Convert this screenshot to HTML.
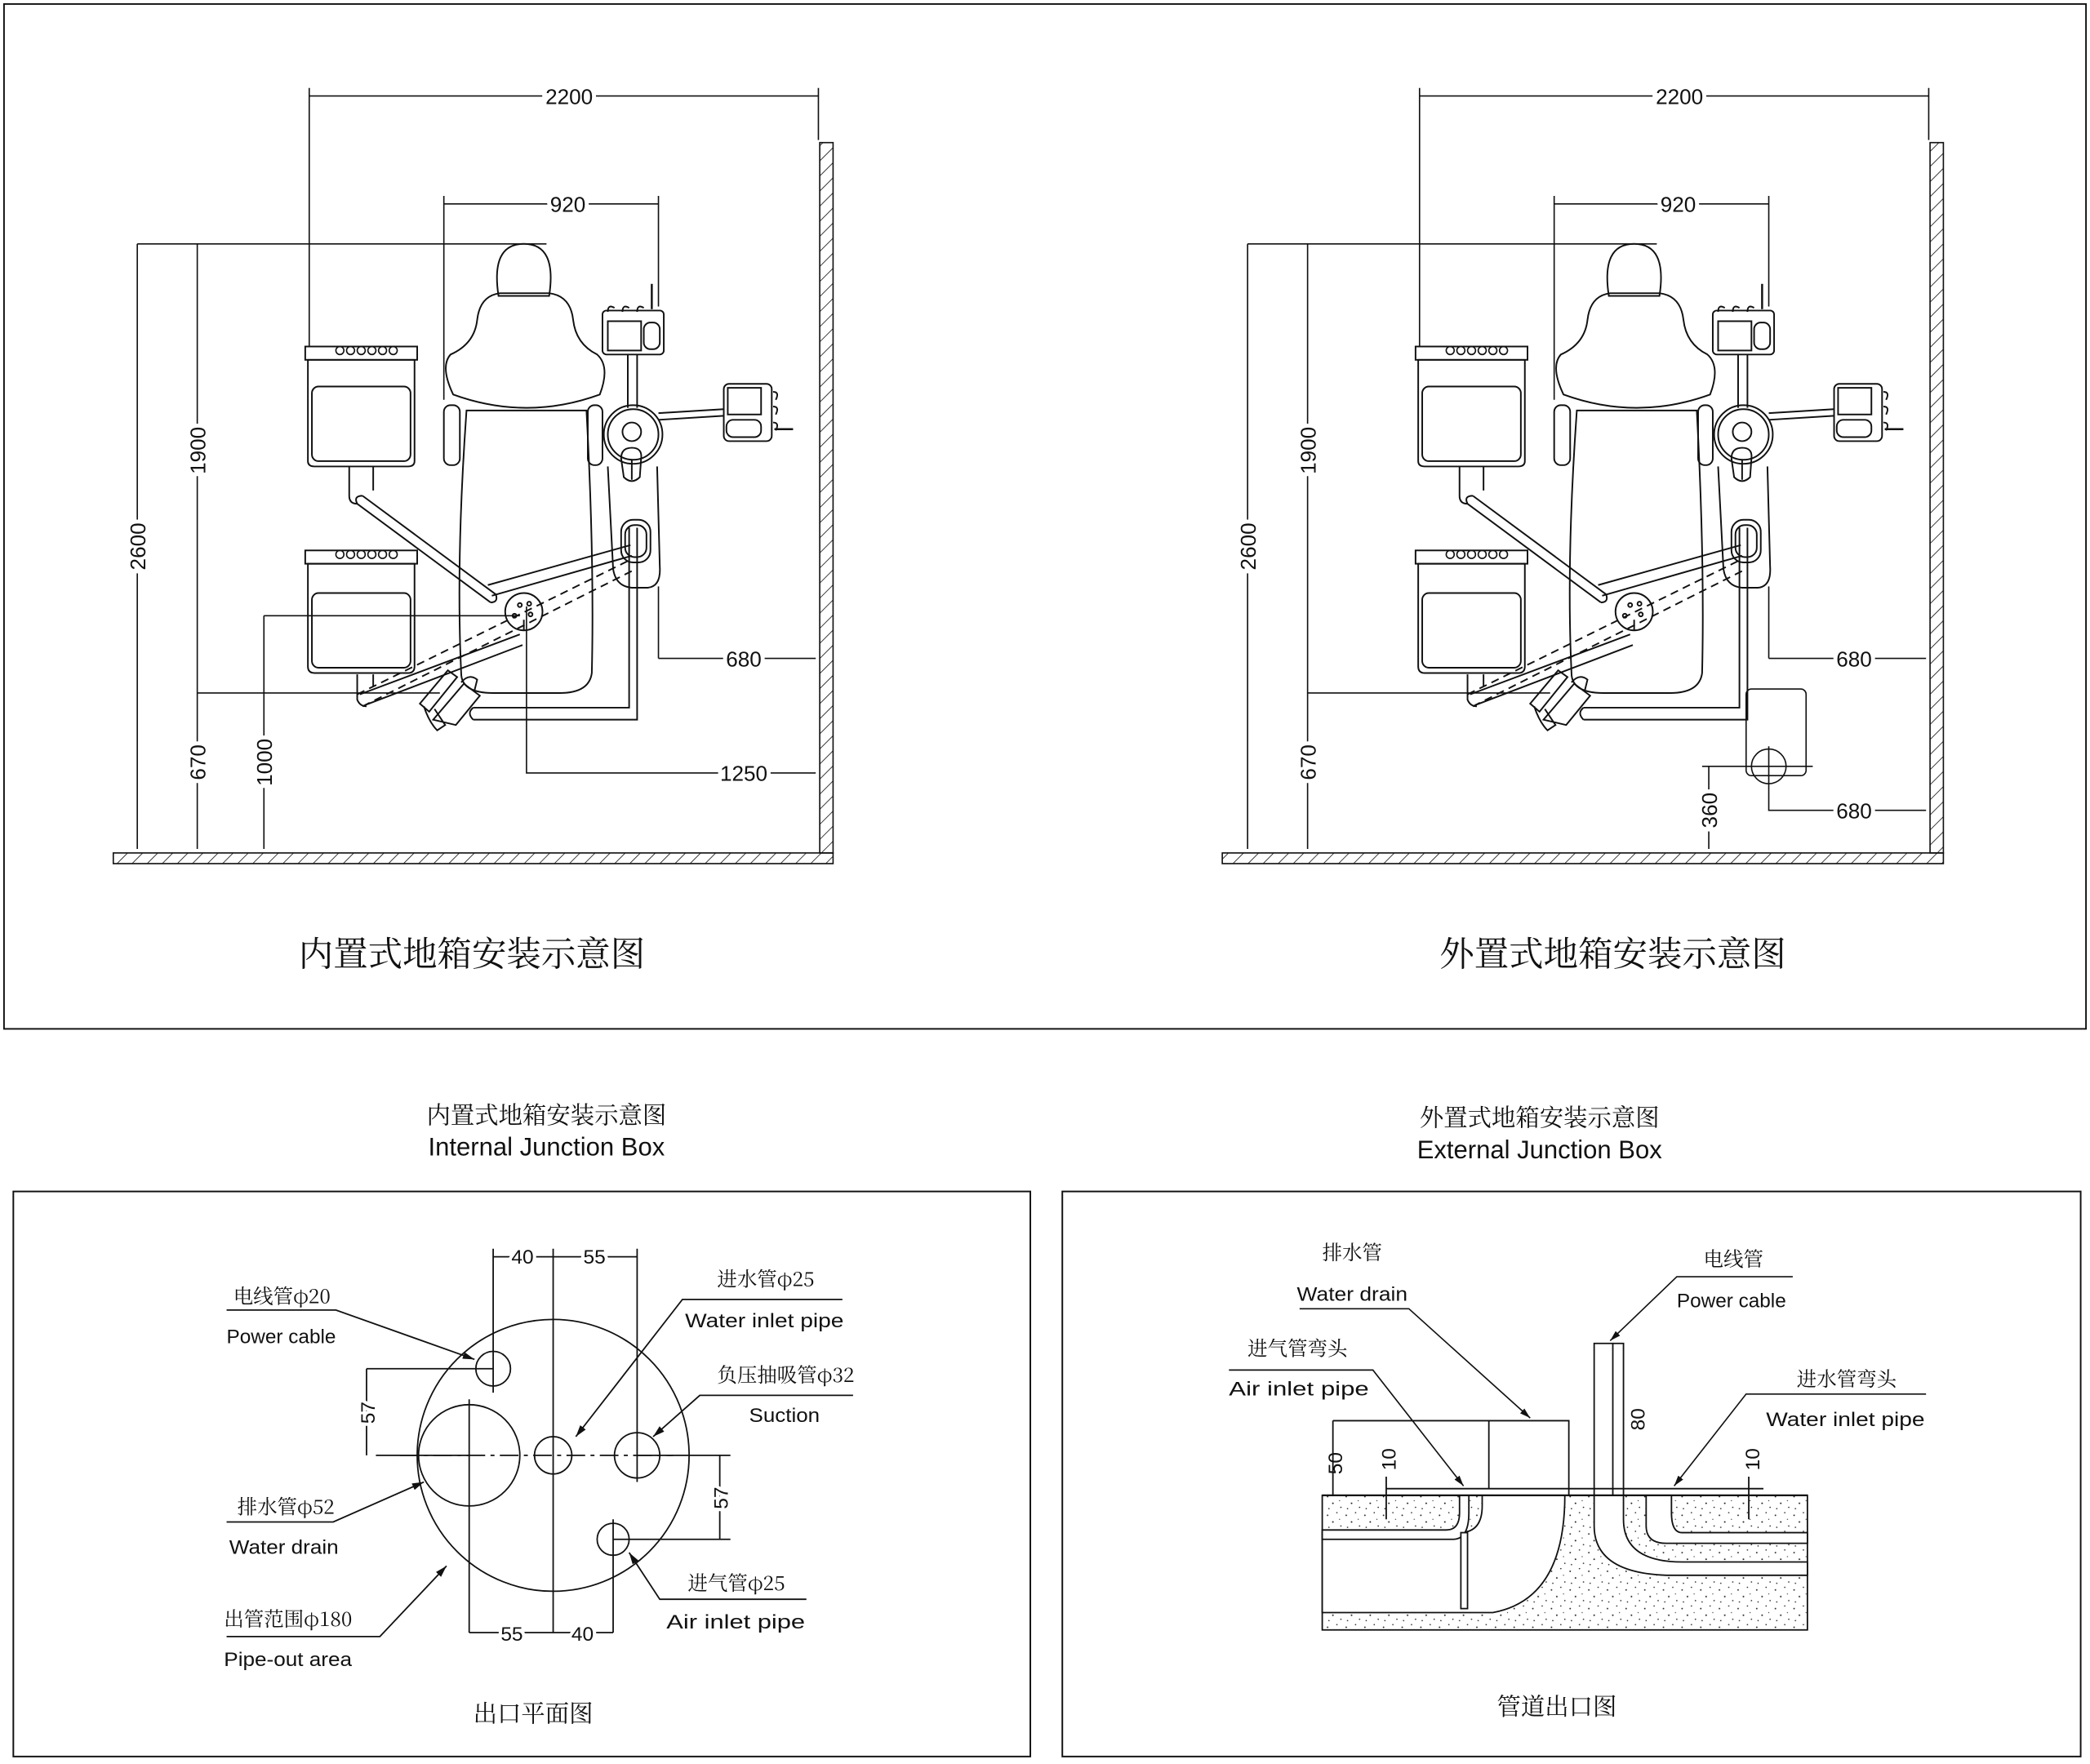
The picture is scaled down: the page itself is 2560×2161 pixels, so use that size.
<!DOCTYPE html>
<html><head><meta charset="utf-8"><style>
html,body{margin:0;padding:0;background:#fff}
svg{display:block}
text{font-family:"Liberation Sans","Noto Sans CJK SC",sans-serif;fill:#111}
.cn{font-family:"Noto Serif CJK SC","Noto Sans CJK SC",serif}
.m{font-family:"Liberation Sans Narrow","Liberation Sans",sans-serif;font-size:15px}
</style></head><body>
<svg width="2560" height="2161" viewBox="0 0 1568 1323.6" xmlns="http://www.w3.org/2000/svg">
<defs>
<pattern id="hatch" width="8" height="8" patternUnits="userSpaceOnUse" patternTransform="rotate(45)">
<line x1="0" y1="0" x2="0" y2="8" stroke="#111" stroke-width="1"/></pattern>
<pattern id="dots" width="14" height="14" patternUnits="userSpaceOnUse">
<circle cx="2" cy="3" r="0.6" fill="#222"/><circle cx="9" cy="1" r="0.5" fill="#222"/><circle cx="6" cy="8" r="0.6" fill="#222"/><circle cx="12" cy="11" r="0.5" fill="#222"/><circle cx="3" cy="12" r="0.5" fill="#222"/><circle cx="11" cy="6" r="0.4" fill="#222"/></pattern>
<marker id="ar" viewBox="0 0 10 10" refX="10" refY="5" markerWidth="8" markerHeight="8" orient="auto-start-reverse"><path d="M0,2 L10,5 L0,8 z" fill="#111"/></marker>
<g id="unit" fill="none" stroke="#111" stroke-width="1.2">
 <path d="M374,222 Q368,183 393,183 Q418,183 412,222 Z"/>
 <path d="M340,296 Q330,275 338,266 Q356,258 358,240 Q360,222 375,220 L412,220 Q428,222 430,240 Q432,258 448,266 Q458,275 450,296 Q395,316 340,296Z"/>
 <path d="M350,308 L440,308 Q446,420 444,505 Q442,520 420,520 L370,520 Q346,520 346,505 Q342,420 350,308Z"/>
 <rect x="333" y="304" width="12" height="45" rx="5"/>
 <rect x="441" y="304" width="11" height="45" rx="5"/>
 <rect x="229" y="260" width="84" height="10"/>
 <path d="M231,270 L311,270 L311,346 Q311,350 306,350 L236,350 Q231,350 231,346Z"/>
 <rect x="234" y="290" width="74" height="56" rx="5"/>
 <g stroke-width="1"><circle cx="255" cy="263" r="3"/><circle cx="263" cy="263" r="3"/><circle cx="271" cy="263" r="3"/><circle cx="279" cy="263" r="3"/><circle cx="287" cy="263" r="3"/><circle cx="295" cy="263" r="3"/></g>
 <rect x="229" y="413" width="84" height="10"/>
 <path d="M231,423 L311,423 L311,500 Q311,505 306,505 L236,505 Q231,505 231,500Z"/>
 <rect x="234" y="445" width="74" height="56" rx="5"/>
 <g stroke-width="1"><circle cx="255" cy="416" r="3"/><circle cx="263" cy="416" r="3"/><circle cx="271" cy="416" r="3"/><circle cx="279" cy="416" r="3"/><circle cx="287" cy="416" r="3"/><circle cx="295" cy="416" r="3"/></g>
 <path d="M262,350 L262,372 Q262,378 268,378 M280,350 L280,368"/>
 <path d="M268,506 L268,525 Q270,530 275,530 M280,506 L280,515"/>
 <path d="M272,372 L372,446 M268,378 L368,452"/>
 <path d="M268,378 Q265,372 272,372 M372,446 Q374,452 368,452"/>
 <path d="M366,439 L473,409 M369,447 L474,417"/>
 <path d="M268,521 L473,420" stroke-dasharray="6,4"/>
 <path d="M272,530 L475,428" stroke-dasharray="6,4"/>
 <path d="M270,521 L390,476 M274,529 L392,484"/>
 <circle cx="393" cy="459" r="14"/>
 <circle cx="390" cy="454" r="1.5"/><circle cx="397" cy="453" r="1.5"/><circle cx="386" cy="462" r="1.5"/><circle cx="398" cy="461" r="1.5"/>
 <line x1="393" y1="465" x2="393" y2="473"/>
 <path d="M315,528 L336,503 L343,508 L322,534 Z"/>
 <path d="M325,540 L348,513 L360,522 L342,544 Z"/>
 <path d="M318,530 Q322,542 328,548 L334,544 L326,532"/>
 <path d="M346,512 Q352,505 358,510 L356,518"/>
 <path d="M355,531 L472,531 L472,396 M355,540 L478,540 L478,396"/>
 <path d="M355,531 Q350,535 355,540"/>
 <path d="M456,350 L460,427 Q462,440 474,441 L486,441 Q496,440 495,425 L493,350"/>
 <rect x="466" y="390" width="22" height="32" rx="9"/>
 <rect x="469" y="394" width="16" height="24" rx="7"/>
 <circle cx="475" cy="326" r="22"/><circle cx="475" cy="326" r="19"/><circle cx="474" cy="324" r="7"/>
 <path d="M466,344 Q466,336 474,336 Q482,336 481,344 L480,358 Q474,364 468,358Z"/>
 <line x1="474" y1="345" x2="474" y2="360"/>
 <rect x="452" y="233" width="46" height="33" rx="3"/>
 <rect x="456" y="241" width="25" height="22"/>
 <rect x="483" y="242" width="12" height="20" rx="5"/>
 <path d="M456,234 Q456,228 461,231 M467,234 Q467,228 472,231 M478,234 Q478,228 483,231"/>
 <line x1="489" y1="213" x2="489" y2="232" stroke-width="1.5"/>
 <path d="M471,266 L471,306 M478,266 L478,306"/>
 <path d="M494,310 L543,307 M494,315 L543,312"/>
 <rect x="543" y="288" width="36" height="43" rx="4"/>
 <rect x="546" y="291" width="25" height="20"/>
 <rect x="545" y="315" width="26" height="13" rx="5"/>
 <path d="M580,294 Q585,294 582,300 M580,305 Q585,305 582,311 M580,317 Q585,317 582,323"/>
 <line x1="581" y1="322" x2="595" y2="322" stroke-width="1.5"/>
</g>
</defs>

<rect x="3" y="3" width="1562" height="769" fill="none" stroke="#111" stroke-width="1.2"/>
<rect x="10" y="894" width="763" height="424" fill="none" stroke="#111" stroke-width="1.2"/>
<rect x="797" y="894" width="764" height="424" fill="none" stroke="#111" stroke-width="1.2"/>

<g stroke="#111" stroke-width="1" fill="none">
 <rect x="85" y="640" width="540" height="8" fill="url(#hatch)"/>
 <rect x="615" y="107" width="10" height="533" fill="url(#hatch)"/>
 <path d="M232,72 L614,72 M232,66 L232,260 M614,66 L614,105"/>
 <path d="M333,153 L494,153 M333,147 L333,300 M494,147 L494,230"/>
 <path d="M103,183 L410,183 M103,183 L103,637 M148,183 L148,520 M148,520 L330,520 M148,520 L148,637"/>
 <path d="M198,462 L390,462 M198,462 L198,637"/>
 <path d="M494,494 L612,494 M494,440 L494,494"/>
 <path d="M395,455 L395,580 L612,580"/>
</g>
<use href="#unit"/>
<g font-size="16">
<text x="427" y="78" text-anchor="middle" style="paint-order:stroke" stroke="#fff" stroke-width="6">2200</text>
<text x="426" y="159" text-anchor="middle" stroke="#fff" stroke-width="6" style="paint-order:stroke">920</text>
<text x="558" y="500" text-anchor="middle" stroke="#fff" stroke-width="6" style="paint-order:stroke">680</text>
<text x="558" y="586" text-anchor="middle" stroke="#fff" stroke-width="6" style="paint-order:stroke">1250</text>
<text transform="translate(109,410) rotate(-90)" text-anchor="middle" stroke="#fff" stroke-width="6" style="paint-order:stroke">2600</text>
<text transform="translate(154,338) rotate(-90)" text-anchor="middle" stroke="#fff" stroke-width="6" style="paint-order:stroke">1900</text>
<text transform="translate(154,572) rotate(-90)" text-anchor="middle" stroke="#fff" stroke-width="6" style="paint-order:stroke">670</text>
<text transform="translate(204,572) rotate(-90)" text-anchor="middle" stroke="#fff" stroke-width="6" style="paint-order:stroke">1000</text>
</g>
<text x="354" y="725" class="cn" font-size="26" text-anchor="middle">内置式地箱安装示意图</text>

<g stroke="#111" stroke-width="1" fill="none">
 <rect x="917" y="640" width="541" height="8" fill="url(#hatch)"/>
 <rect x="1448" y="107" width="10" height="533" fill="url(#hatch)"/>
 <path d="M1065,72 L1447,72 M1065,66 L1065,260 M1447,66 L1447,105"/>
 <path d="M1166,153 L1327,153 M1166,147 L1166,300 M1327,147 L1327,230"/>
 <path d="M936,183 L1243,183 M936,183 L936,637 M981,183 L981,520 M981,520 L1163,520 M981,520 L981,637"/>
 <path d="M1327,494 L1445,494 M1327,440 L1327,494"/>
 <rect x="1310" y="517" width="45" height="65" rx="4"/>
 <circle cx="1327" cy="575" r="13"/>
 <path d="M1277,575 L1360,575 M1327,560 L1327,608 L1445,608 M1282,575 L1282,637"/>
</g>
<use href="#unit" transform="translate(833,0)"/>
<g font-size="16">
<text x="1260" y="78" text-anchor="middle" stroke="#fff" stroke-width="6" style="paint-order:stroke">2200</text>
<text x="1259" y="159" text-anchor="middle" stroke="#fff" stroke-width="6" style="paint-order:stroke">920</text>
<text x="1391" y="500" text-anchor="middle" stroke="#fff" stroke-width="6" style="paint-order:stroke">680</text>
<text x="1391" y="614" text-anchor="middle" stroke="#fff" stroke-width="6" style="paint-order:stroke">680</text>
<text transform="translate(942,410) rotate(-90)" text-anchor="middle" stroke="#fff" stroke-width="6" style="paint-order:stroke">2600</text>
<text transform="translate(987,338) rotate(-90)" text-anchor="middle" stroke="#fff" stroke-width="6" style="paint-order:stroke">1900</text>
<text transform="translate(987,572) rotate(-90)" text-anchor="middle" stroke="#fff" stroke-width="6" style="paint-order:stroke">670</text>
<text transform="translate(1288,608) rotate(-90)" text-anchor="middle" stroke="#fff" stroke-width="6" style="paint-order:stroke">360</text>
</g>
<text x="1210" y="725" class="cn" font-size="26" text-anchor="middle">外置式地箱安装示意图</text>

<text x="410" y="843" class="cn" font-size="18" text-anchor="middle">内置式地箱安装示意图</text>
<text x="410" y="867" font-size="19" text-anchor="middle">Internal Junction Box</text>
<text x="1155" y="845" class="cn" font-size="18" text-anchor="middle">外置式地箱安装示意图</text>
<text x="1155" y="869" font-size="19" text-anchor="middle">External Junction Box</text>

<g stroke="#111" stroke-width="1.1" fill="none">
 <circle cx="415" cy="1092" r="102"/>
 <circle cx="370" cy="1027" r="13"/>
 <circle cx="352" cy="1092" r="38"/>
 <circle cx="415" cy="1092" r="14"/>
 <circle cx="478" cy="1092" r="17"/>
 <circle cx="460" cy="1155" r="12"/>
 <path d="M300,1092 L505,1092" stroke-dasharray="14,4,3,4"/>
 <path d="M370,937 L370,1045 M415,937 L415,1225 M478,937 L478,1112 M352,1050 L352,1225 M460,1140 L460,1225"/>
 <path d="M370,943 L478,943 M352,1225 L460,1225"/>
 <path d="M275,1027 L370,1027 M275,1027 L275,1092 M282,1092 L352,1092"/>
 <path d="M478,1092 L548,1092 M460,1155 L548,1155 M540,1092 L540,1155"/>
 <path d="M170,983 L252,983 L356,1020" marker-end="url(#ar)"/>
 <path d="M170,1142 L250,1142 L318,1112" marker-end="url(#ar)"/>
 <path d="M170,1228 L285,1228 L335,1175" marker-end="url(#ar)"/>
 <path d="M632,975 L512,975 L432,1078" marker-end="url(#ar)"/>
 <path d="M640,1047 L525,1047 L490,1078" marker-end="url(#ar)"/>
 <path d="M605,1200 L495,1200 L472,1165" marker-end="url(#ar)"/>
</g>
<g font-size="15">
<text x="392" y="948" text-anchor="middle" stroke="#fff" stroke-width="5" style="paint-order:stroke">40</text>
<text x="446" y="948" text-anchor="middle" stroke="#fff" stroke-width="5" style="paint-order:stroke">55</text>
<text x="384" y="1231" text-anchor="middle" stroke="#fff" stroke-width="5" style="paint-order:stroke">55</text>
<text x="437" y="1231" text-anchor="middle" stroke="#fff" stroke-width="5" style="paint-order:stroke">40</text>
<text transform="translate(281,1060) rotate(-90)" text-anchor="middle" stroke="#fff" stroke-width="5" style="paint-order:stroke">57</text>
<text transform="translate(546,1124) rotate(-90)" text-anchor="middle" stroke="#fff" stroke-width="5" style="paint-order:stroke">57</text>
</g>
<g font-size="15">
<text x="175" y="978" class="cn">电线管φ20</text>
<text x="170" y="1008" class="m" textLength="82" lengthAdjust="spacingAndGlyphs">Power cable</text>
<text x="178" y="1136" class="cn">排水管φ52</text>
<text x="172" y="1166" class="m" textLength="82" lengthAdjust="spacingAndGlyphs">Water drain</text>
<text x="168" y="1220" class="cn">出管范围φ180</text>
<text x="168" y="1250" class="m" textLength="96" lengthAdjust="spacingAndGlyphs">Pipe-out area</text>
<text x="538" y="965" class="cn">进水管φ25</text>
<text x="514" y="996" class="m" textLength="119" lengthAdjust="spacingAndGlyphs">Water inlet pipe</text>
<text x="538" y="1037" class="cn">负压抽吸管φ32</text>
<text x="562" y="1067" class="m" textLength="53" lengthAdjust="spacingAndGlyphs">Suction</text>
<text x="516" y="1193" class="cn">进气管φ25</text>
<text x="500" y="1222" class="m" textLength="104" lengthAdjust="spacingAndGlyphs">Air inlet pipe</text>
</g>
<text x="400" y="1292" class="cn" font-size="18" text-anchor="middle">出口平面图</text>

<g stroke="#111" stroke-width="1.1">
 <rect x="992" y="1122" width="364" height="101" fill="url(#dots)"/>
 <path d="M992,1150 L1095,1150 Q1112,1150 1112,1130 L1112,1122 L1174,1122 Q1174,1200 1120,1210 L992,1210Z" fill="#fff"/>
 <path d="M992,1148 L1085,1148 Q1095,1148 1095,1135 L1095,1122 L1102,1122 L1102,1135 Q1102,1155 1090,1155 L992,1155Z" fill="#fff"/>
 <path d="M1196,1122 L1196,1145 Q1196,1180 1250,1182 L1356,1182 L1356,1172 L1262,1172 Q1218,1172 1218,1140 L1218,1122Z" fill="#fff"/>
 <path d="M1235,1122 L1235,1145 Q1235,1158 1250,1158 L1356,1158 L1356,1150 L1262,1150 Q1254,1150 1254,1135 L1254,1122Z" fill="#fff"/>
 <rect x="1096" y="1150" width="5" height="57" fill="#fff"/>
 <line x1="992" y1="1122" x2="1356" y2="1122" stroke-width="1.4"/>
 <line x1="1040" y1="1117" x2="1323" y2="1117"/>
 <path d="M1000,1066 L1177,1066 L1177,1122 M1117,1066 L1117,1117 M1000,1066 L1000,1122" fill="none"/>
 <path d="M1196,1122 L1196,1008 L1218,1008 L1218,1122 M1210,1008 L1210,1122" fill="none"/>
 <path d="M1040,1108 L1040,1140 M1312,1108 L1312,1140" fill="none"/>
</g>
<g stroke="#111" stroke-width="1" fill="none">
 <path d="M975,982 L1057,982 L1148,1064" marker-end="url(#ar)"/>
 <path d="M922,1028 L1030,1028 L1098,1115" marker-end="url(#ar)"/>
 <path d="M1345,958 L1258,958 L1208,1006" marker-end="url(#ar)"/>
 <path d="M1445,1046 L1310,1046 L1256,1115" marker-end="url(#ar)"/>
</g>
<g font-size="15">
<text x="992" y="945" class="cn">排水管</text>
<text x="973" y="976" class="m" textLength="83" lengthAdjust="spacingAndGlyphs">Water drain</text>
<text x="936" y="1017" class="cn">进气管弯头</text>
<text x="922" y="1047" class="m" textLength="105" lengthAdjust="spacingAndGlyphs">Air inlet pipe</text>
<text x="1278" y="950" class="cn">电线管</text>
<text x="1258" y="981" class="m" textLength="82" lengthAdjust="spacingAndGlyphs">Power cable</text>
<text x="1348" y="1040" class="cn">进水管弯头</text>
<text x="1325" y="1070" class="m" textLength="119" lengthAdjust="spacingAndGlyphs">Water inlet pipe</text>
<text transform="translate(1007,1098) rotate(-90)" text-anchor="middle">50</text>
<text transform="translate(1047,1095) rotate(-90)" text-anchor="middle">10</text>
<text transform="translate(1320,1095) rotate(-90)" text-anchor="middle">10</text>
<text transform="translate(1234,1065) rotate(-90)" text-anchor="middle" stroke="#fff" stroke-width="5" style="paint-order:stroke">80</text>
</g>
<text x="1168" y="1287" class="cn" font-size="18" text-anchor="middle">管道出口图</text>
</svg>
</body></html>
